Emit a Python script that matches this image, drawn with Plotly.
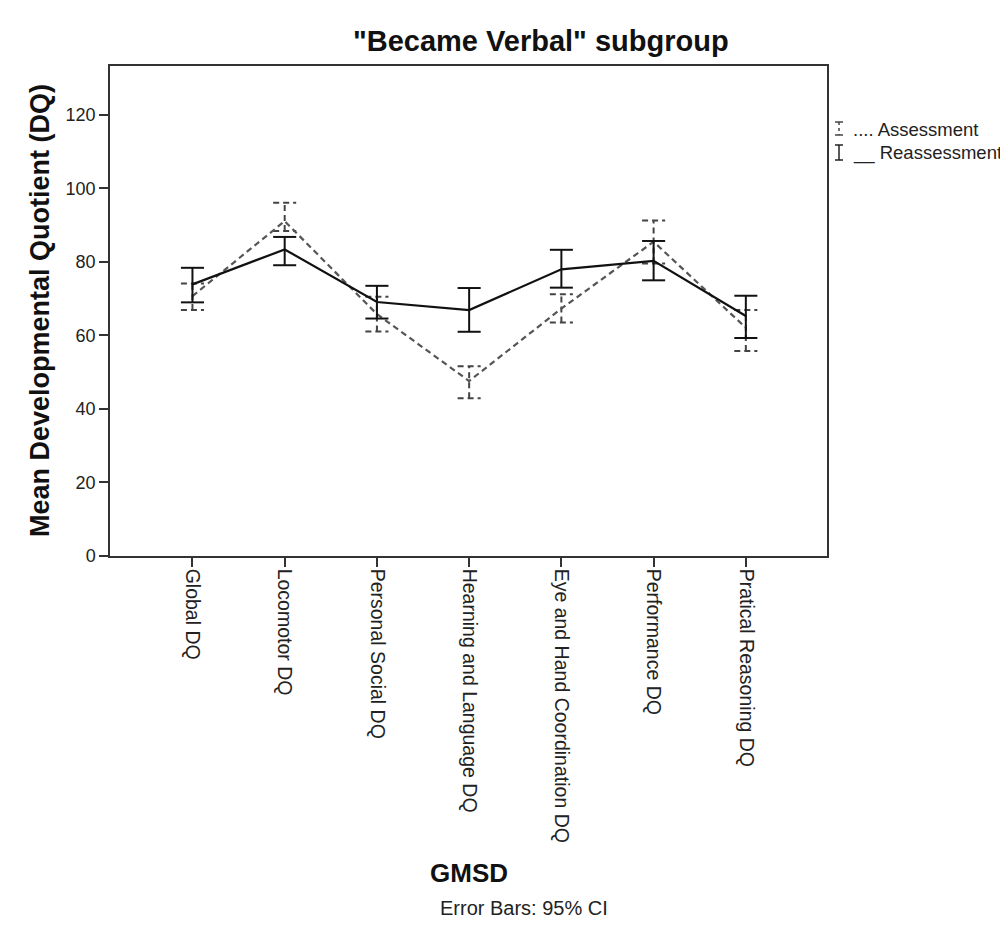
import plotly.graph_objects as go

categories = ["Global DQ", "Locomotor DQ", "Personal Social DQ", "Hearning and Language DQ",
              "Eye and Hand Coordination DQ", "Performance DQ", "Pratical Reasoning DQ"]

assessment_mean = [70.7, 91.1, 65.8, 47.6, 67.3, 85.5, 62.1]
assessment_lo = [66.9, 88.4, 61.1, 42.9, 63.5, 79.6, 55.8]
assessment_hi = [74.1, 96.1, 70.5, 51.6, 71.2, 91.3, 66.9]

reassessment_mean = [73.9, 83.4, 69.1, 66.9, 78.0, 80.3, 65.3]
reassessment_lo = [69.0, 79.1, 64.6, 61.0, 73.0, 75.0, 59.3]
reassessment_hi = [78.4, 86.8, 73.5, 72.9, 83.3, 85.7, 70.8]

y_ticks = [0, 20, 40, 60, 80, 100, 120]

FONT = "Arial, Liberation Sans, sans-serif"
W, H = 1008, 934
L, R, T, B = 102, 189, 58, 386
CAP = 0.125

xs = list(range(len(categories)))


def errbar_path(lo, hi):
    px, py = [], []
    for x, a, b in zip(xs, lo, hi):
        px += [x, x, None, x - CAP, x + CAP, None, x - CAP, x + CAP, None]
        py += [a, b, None, a, a, None, b, b, None]
    return px, py


fig = go.Figure()

# Assessment (dashed)
ax_, ay_ = errbar_path(assessment_lo, assessment_hi)
fig.add_trace(go.Scatter(x=ax_, y=ay_, mode="lines", showlegend=False, hoverinfo="skip",
                         line=dict(color="#444444", width=2, dash="6px,4px")))
fig.add_trace(go.Scatter(x=xs, y=assessment_mean, mode="lines", name="Assessment",
                         showlegend=False,
                         line=dict(color="#555555", width=2.2, dash="6px,4px")))

# Reassessment (solid)
rx_, ry_ = errbar_path(reassessment_lo, reassessment_hi)
fig.add_trace(go.Scatter(x=rx_, y=ry_, mode="lines", showlegend=False, hoverinfo="skip",
                         line=dict(color="#111111", width=2)))
fig.add_trace(go.Scatter(x=xs, y=reassessment_mean, mode="lines", name="Reassessment",
                         showlegend=False,
                         line=dict(color="#111111", width=2.2)))

pw = W - L - R
ph = H - T - B


def px2x(p):
    return (p - L) / pw


def py2y(p):
    return (H - B - p) / ph


shapes = []
# Legend glyphs (I-beams)
for (top, bot, dash, col) in [(114, 127, "dot", "#444444"), (137, 152, "solid", "#222222")]:
    cx = 831
    shapes.append(dict(type="line", xref="paper", yref="paper", x0=px2x(cx), x1=px2x(cx),
                       y0=py2y(top), y1=py2y(bot), line=dict(color=col, width=1.5, dash=dash)))
    for yy in (top, bot):
        shapes.append(dict(type="line", xref="paper", yref="paper", x0=px2x(cx - 4), x1=px2x(cx + 4),
                           y0=py2y(yy), y1=py2y(yy), line=dict(color=col, width=1.5)))

annotations = [
    dict(text='"Became Verbal" subgroup', xref="paper", yref="paper", x=px2x(533), y=py2y(33),
         showarrow=False, xanchor="center", yanchor="middle",
         font=dict(family=FONT, size=29, color="#111111", weight="bold")),
    dict(text="Mean Developmental Quotient (DQ)", xref="paper", yref="paper", x=px2x(32), y=py2y(303),
         showarrow=False, xanchor="center", yanchor="middle", textangle=-90,
         font=dict(family=FONT, size=27, color="#111111", weight="bold")),
    dict(text="GMSD", xref="paper", yref="paper", x=px2x(461), y=py2y(865),
         showarrow=False, xanchor="center", yanchor="middle",
         font=dict(family=FONT, size=26, color="#111111", weight="bold")),
    dict(text="Error Bars: 95% CI", xref="paper", yref="paper", x=px2x(516), y=py2y(900),
         showarrow=False, xanchor="center", yanchor="middle",
         font=dict(family=FONT, size=20, color="#222222")),
    dict(text=".... Assessment", xref="paper", yref="paper", x=px2x(843), y=py2y(121),
         showarrow=False, xanchor="left", yanchor="middle",
         font=dict(family=FONT, size=18.5, color="#222222")),
    dict(text="__ Reassessment", xref="paper", yref="paper", x=px2x(843), y=py2y(145),
         showarrow=False, xanchor="left", yanchor="middle",
         font=dict(family=FONT, size=18.5, color="#222222")),
]

fig.update_layout(
    width=W, height=H,
    margin=dict(l=L, r=R, t=T, b=B, autoexpand=False),
    paper_bgcolor="white", plot_bgcolor="white",
    showlegend=False,
    shapes=shapes, annotations=annotations,
    font=dict(family=FONT, color="#222222"),
)

fig.update_xaxes(
    range=[-0.894, 6.88], tickmode="array", tickvals=xs, ticktext=categories,
    tickangle=90, ticks="outside", ticklen=9, tickwidth=1.5, tickcolor="#333333",
    ticklabelstandoff=-2,
    showline=True, linecolor="#333333", linewidth=1.5, mirror=True,
    showgrid=False, zeroline=False,
    tickfont=dict(family=FONT, size=19.5, color="#222222"),
)
fig.update_yaxes(
    range=[0, 133.3], tickmode="array", tickvals=y_ticks,
    ticks="outside", ticklen=9, tickwidth=1.5, tickcolor="#333333",
    showline=True, linecolor="#333333", linewidth=1.5, mirror=True,
    showgrid=False, zeroline=False,
    tickfont=dict(family=FONT, size=18, color="#222222"),
)

fig.write_html("out.html")
